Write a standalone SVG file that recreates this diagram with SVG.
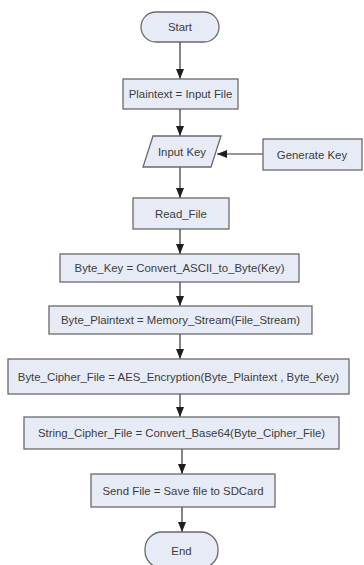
<svg xmlns="http://www.w3.org/2000/svg" width="364" height="565" viewBox="0 0 364 565">
  <defs>
    <marker id="arrow" markerUnits="userSpaceOnUse" markerWidth="10" markerHeight="10" viewBox="0 0 10 10" refX="10" refY="5" orient="auto">
      <path d="M0,1 L10,5 L0,9 Z" fill="#1e1e1e"/>
    </marker>
    <style>
      .shape { fill: #e7ebf5; stroke: #6a6a6a; stroke-width: 1.3; }
      .label { font-family: "Liberation Sans", Arial, sans-serif; font-size: 11.4px; fill: #3c3c3c; text-anchor: middle; dominant-baseline: central; }
      .flow { stroke: #333; stroke-width: 1.2; fill: none; marker-end: url(#arrow); }
    </style>
  </defs>
  <rect width="364" height="565" fill="#ffffff"/>

  <g id="connectors">
    <line class="flow" x1="180" y1="42" x2="180" y2="79"/>
    <line class="flow" x1="180" y1="109" x2="180" y2="136"/>
    <line class="flow" x1="263" y1="154" x2="217" y2="154"/>
    <line class="flow" x1="180" y1="167" x2="180" y2="198"/>
    <line class="flow" x1="180" y1="229" x2="180" y2="254"/>
    <line class="flow" x1="180" y1="282" x2="180" y2="306"/>
    <line class="flow" x1="180" y1="334" x2="180" y2="359"/>
    <line class="flow" x1="180" y1="394" x2="180" y2="417"/>
    <line class="flow" x1="182" y1="449" x2="182" y2="474"/>
    <line class="flow" x1="182" y1="507" x2="182" y2="532"/>
  </g>

  <g id="start">
    <rect class="shape" x="141" y="12" width="78" height="30" rx="15"/>
    <text class="label" x="180" y="27">Start</text>
  </g>
  <g id="plaintext">
    <rect class="shape" x="123" y="79" width="115" height="30"/>
    <text class="label" x="180.5" y="94">Plaintext = Input File</text>
  </g>
  <g id="input-key">
    <polygon class="shape" points="153,136 221,136 211,167 143,167"/>
    <text class="label" x="182" y="152">Input Key</text>
  </g>
  <g id="generate-key">
    <rect class="shape" x="263" y="139" width="99" height="31"/>
    <text class="label" x="312" y="154.5">Generate Key</text>
  </g>
  <g id="read-file">
    <rect class="shape" x="133" y="198" width="96" height="31"/>
    <text class="label" x="181" y="213.5">Read_File</text>
  </g>
  <g id="byte-key">
    <rect class="shape" x="60" y="254" width="239" height="28"/>
    <text class="label" x="179.5" y="268">Byte_Key = Convert_ASCII_to_Byte(Key)</text>
  </g>
  <g id="byte-plaintext">
    <rect class="shape" x="49" y="306" width="263" height="28"/>
    <text class="label" x="180.5" y="320">Byte_Plaintext = Memory_Stream(File_Stream)</text>
  </g>
  <g id="byte-cipher">
    <rect class="shape" x="8" y="359" width="341" height="35"/>
    <text class="label" x="178.5" y="376.5">Byte_Cipher_File = AES_Encryption(Byte_Plaintext , Byte_Key)</text>
  </g>
  <g id="string-cipher">
    <rect class="shape" x="24" y="417" width="315" height="32"/>
    <text class="label" x="181.5" y="433">String_Cipher_File = Convert_Base64(Byte_Cipher_File)</text>
  </g>
  <g id="send-file">
    <rect class="shape" x="91" y="474" width="184" height="33"/>
    <text class="label" x="183" y="490.5">Send File = Save file to SDCard</text>
  </g>
  <g id="end">
    <rect class="shape" x="145" y="532" width="73" height="36" rx="17"/>
    <text class="label" x="181.5" y="551">End</text>
  </g>
</svg>
